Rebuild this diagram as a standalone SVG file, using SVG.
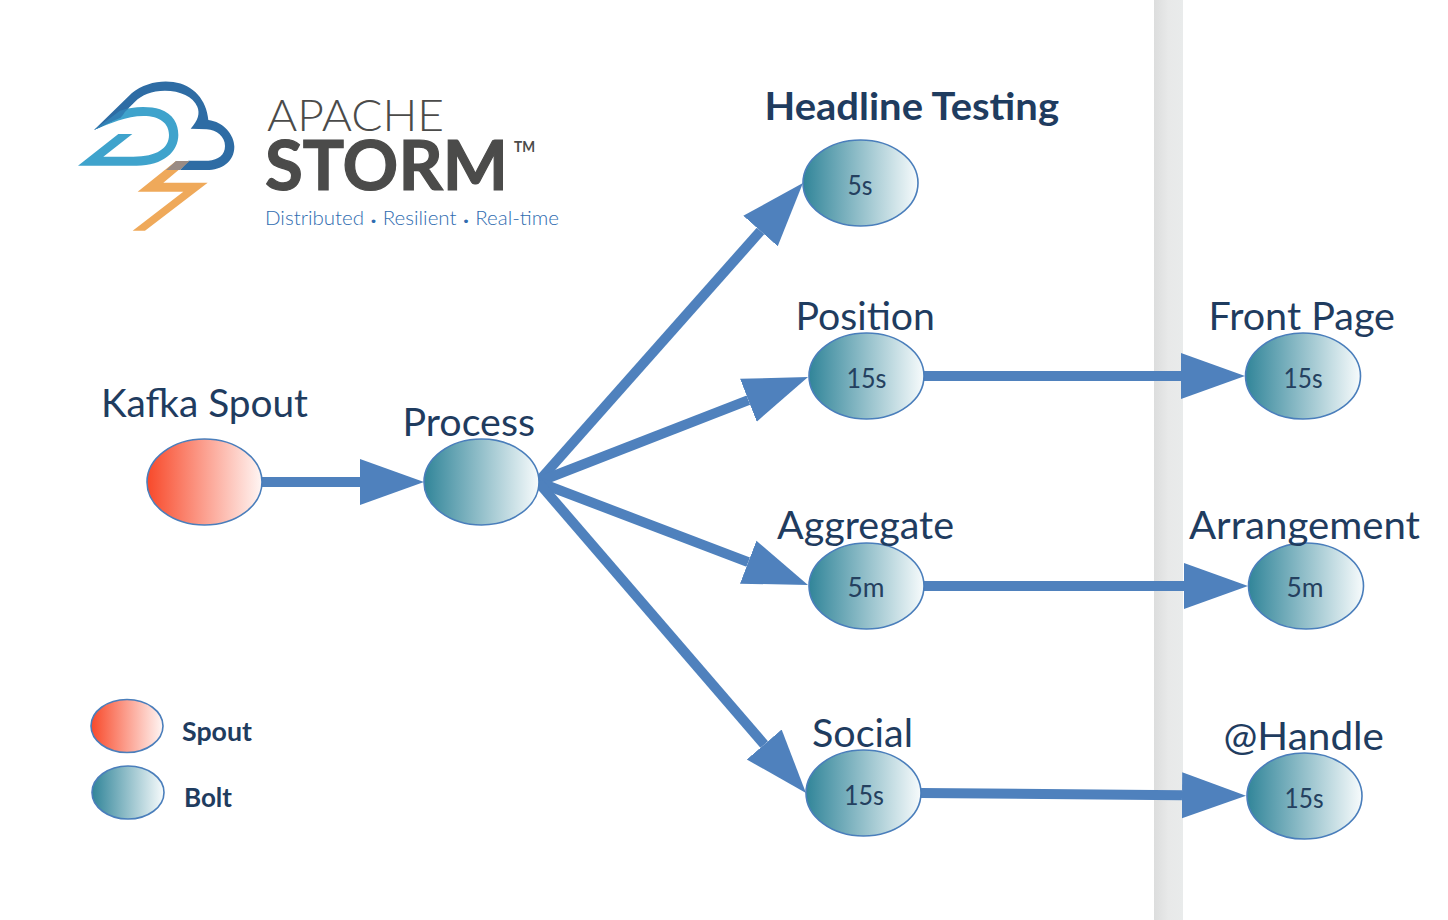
<svg xmlns="http://www.w3.org/2000/svg" width="1448" height="920" viewBox="0 0 1448 920">
<style>
text{font-family:Lato,"Liberation Sans",sans-serif;fill:#1f3c5f}
.l{font-size:38px}
.v{font-size:26px;fill:#24405f}
.b{font-weight:700}
.n{stroke:#4a7ebb;stroke-width:1.6}
.bolt{fill:url(#boltG)}
.spout{fill:url(#spoutG)}
.c{stroke:#4f81bd;stroke-width:10;fill:none;marker-end:url(#ah)}
</style>
<defs>
<linearGradient id="boltG"><stop offset="0" stop-color="#318599"/><stop offset="1" stop-color="#f7fbfc"/></linearGradient>
<linearGradient id="spoutG"><stop offset="0" stop-color="#f8492a"/><stop offset="1" stop-color="#fff6f4"/></linearGradient>
<linearGradient id="band"><stop offset="0" stop-color="#dcdddd"/><stop offset=".5" stop-color="#e8e9e9"/><stop offset="1" stop-color="#e9ebeb"/></linearGradient>
<marker id="ah" markerUnits="userSpaceOnUse" markerWidth="66" markerHeight="48" refX="0" refY="24" orient="auto"><path d="M0 1L64 24L0 47Z" fill="#4f81bd"/></marker>
</defs>
<rect id="band-rect" x="1154" y="0" width="29" height="920" fill="url(#band)"/>
<g id="logo">
<g transform="translate(70 80) scale(.33333)">
<path fill="#3fa3cc" d="M72 150L150 92C190 78 240 78 270 88C310 102 325 132 325 165C325 215 280 257 200 257L24 257L145 162L187 162L100 230L190 230C260 230 297 205 297 165C297 130 270 108 220 108C170 108 120 130 72 150Z"/>
<path fill="#2e6ca4" d="M72 150L185 40C220 10 270 0 310 6C370 14 410 60 415 120C460 125 493 165 493 200C493 245 455 270 410 270L330 270L355 242L415 242C445 240 465 225 465 198C465 170 440 150 410 148L362 146C385 120 390 100 382 80C370 50 330 32 285 32C245 32 215 45 195 65L170 90C150 100 140 106 128 122Z"/>
<path fill="#3280b5" d="M72 150L150 92L178 84C165 92 160 105 152 113C125 122 100 138 72 150Z"/>
<path fill="#efa95a" d="M318 243L358 243L280 308L413 308L225 452L188 452L340 335L203 335Z"/>
<path fill="#9a8b84" d="M318 243L358 243L330 270L288 270Z"/>
</g>
<text x="267" y="131" style="fill:#4b4b4a;font-size:44px;font-weight:300" textLength="177" lengthAdjust="spacingAndGlyphs">APACHE</text>
<text x="265" y="190" style="fill:#4b4b4a;stroke:#4b4b4a;stroke-width:1.2px;font-size:68px;font-weight:700" textLength="243" lengthAdjust="spacingAndGlyphs">STORM</text>
<text x="514" y="152" style="fill:#4b4b4a;font-size:15px;font-weight:700" textLength="21" lengthAdjust="spacingAndGlyphs">TM</text>
<text x="265" y="225" style="fill:#2f6cb0;font-size:19px;font-weight:300" textLength="294" lengthAdjust="spacingAndGlyphs">Distributed <tspan style="font-size:12px">•</tspan> Resilient <tspan style="font-size:12px">•</tspan> Real-time</text>
</g>
<g id="connectors">
<path class="c" d="M262 482H360"/>
<path class="c" d="M538 482L760.5 231"/>
<path class="c" d="M538 482L748.4 400.2"/>
<path class="c" d="M538 482L748.2 562.2"/>
<path class="c" d="M538 482L764.2 744.5"/>
<path class="c" d="M923 376H1181"/>
<path class="c" d="M923 586H1184"/>
<path class="c" d="M921 793L1182 795.3"/>
</g>
<g id="kafka-spout"><ellipse class="n spout" cx="204.5" cy="482" rx="57.5" ry="43"/><text class="l" x="101" y="417" textLength="207" lengthAdjust="spacingAndGlyphs">Kafka Spout</text></g>
<g id="process"><ellipse class="n bolt" cx="481.5" cy="482" rx="57.5" ry="43"/><text class="l" x="402.5" y="436" textLength="132.5" lengthAdjust="spacingAndGlyphs">Process</text></g>
<g id="headline-testing"><ellipse class="n bolt" cx="860.5" cy="183" rx="57.5" ry="43"/><text class="l b" x="764.5" y="120" textLength="294.5" lengthAdjust="spacingAndGlyphs">Headline Testing</text><text class="v" x="847.5" y="195" textLength="25" lengthAdjust="spacingAndGlyphs">5s</text></g>
<g id="position"><ellipse class="n bolt" cx="866.5" cy="376" rx="57.5" ry="43"/><text class="l" x="795.5" y="330" textLength="139.5" lengthAdjust="spacingAndGlyphs">Position</text><text class="v" x="846.5" y="388" textLength="40" lengthAdjust="spacingAndGlyphs">15s</text></g>
<g id="aggregate"><ellipse class="n bolt" cx="866.5" cy="586" rx="57.5" ry="43"/><text class="l" x="777" y="539" textLength="177" lengthAdjust="spacingAndGlyphs">Aggregate</text><text class="v" x="847.5" y="597" textLength="37" lengthAdjust="spacingAndGlyphs">5m</text></g>
<g id="social"><ellipse class="n bolt" cx="863.5" cy="793" rx="57.5" ry="43"/><text class="l" x="812" y="747" textLength="101" lengthAdjust="spacingAndGlyphs">Social</text><text class="v" x="844" y="805" textLength="40" lengthAdjust="spacingAndGlyphs">15s</text></g>
<g id="front-page"><ellipse class="n bolt" cx="1303" cy="376" rx="57.5" ry="43"/><text class="l" x="1208.5" y="330" textLength="186.5" lengthAdjust="spacingAndGlyphs">Front Page</text><text class="v" x="1283.5" y="388" textLength="39" lengthAdjust="spacingAndGlyphs">15s</text></g>
<g id="arrangement"><ellipse class="n bolt" cx="1306" cy="586" rx="57.5" ry="43"/><text class="l" x="1189" y="539" textLength="231" lengthAdjust="spacingAndGlyphs">Arrangement</text><text class="v" x="1286.5" y="597" textLength="37" lengthAdjust="spacingAndGlyphs">5m</text></g>
<g id="handle"><ellipse class="n bolt" cx="1304.5" cy="796" rx="57.5" ry="43"/><text class="l" x="1223.5" y="750" textLength="160.5" lengthAdjust="spacingAndGlyphs">@Handle</text><text class="v" x="1284.5" y="808" textLength="39" lengthAdjust="spacingAndGlyphs">15s</text></g>
<g id="legend-spout"><ellipse class="n spout" cx="127" cy="726" rx="36" ry="26.5"/><text class="b" x="182" y="741" style="font-size:26px" textLength="70" lengthAdjust="spacingAndGlyphs">Spout</text></g>
<g id="legend-bolt"><ellipse class="n bolt" cx="128" cy="792.5" rx="36" ry="26.5"/><text class="b" x="184" y="807" style="font-size:26px" textLength="48" lengthAdjust="spacingAndGlyphs">Bolt</text></g>
</svg>
